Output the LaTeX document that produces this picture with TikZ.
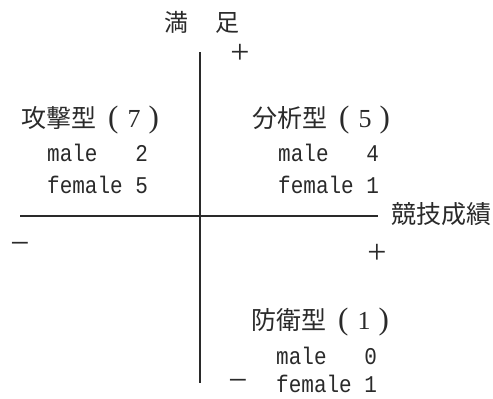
\documentclass[tikz,border=0pt]{standalone}
\usepackage{fontspec}
\newfontfamily\cjk{Noto Sans CJK JP}
\newfontfamily\latmono[FakeStretch=0.875]{Liberation Mono}
\newfontfamily\latserif{Liberation Serif}
\definecolor{ink}{HTML}{2A2A2A}
\newcommand{\bigparen}[1]{{\latserif\fontsize{31}{31}\selectfont #1}}
\newcommand{\headline}[2]{#1\hspace{12pt}\bigparen{(}\hspace{9pt}{\latserif\fontsize{26}{26}\selectfont #2}\hspace{8pt}\bigparen{)}}
\begin{document}
\begin{tikzpicture}[x=1pt,y=-1pt,
  every node/.style={inner sep=0pt,text=ink},
  head/.style={anchor=west,font=\cjk\fontsize{25}{25}\selectfont},
  row/.style={anchor=west,font=\latmono\fontsize{24}{24}\selectfont},
  sign/.style={font=\latserif\fontsize{34}{34}\selectfont},
  axis/.style={draw=ink,line width=1.3pt}]
\useasboundingbox (0,0) rectangle (493,399);
\coordinate (vtop) at (200,52);
\coordinate (vbot) at (200,383);
\coordinate (hl) at (20,216);
\coordinate (hr) at (378,216);
\draw[axis] (vtop) -- (vbot);
\draw[axis] (hl) -- (hr);
\node[font=\cjk\fontsize{24}{24}\selectfont] (ylab) at (202,22) {満\hspace{1.1em}足};
\node[sign] (yplus) at (240,54) {+};
\node[head] (t1) at (21,120) {\headline{攻擊型}{7}};
\node[row] (m1) at (47,153) {male\phantom{000}2};
\node[row] (f1) at (47,185) {female 5};
\node[head] (t2) at (252,120) {\headline{分析型}{5}};
\node[row] (m2) at (278,153) {male\phantom{000}4};
\node[row] (f2) at (278,185) {female 1};
\node[anchor=west,font=\cjk\fontsize{25}{25}\selectfont] (xlab) at (391,214) {競技成績};
\node[sign] (xminus) at (20,248) {−};
\node[sign] (xplus) at (377,254) {+};
\node[head] (t3) at (251,322) {\headline{防衛型}{1}};
\node[row] (m3) at (276,356) {male\phantom{000}0};
\node[row] (f3) at (276,384) {female 1};
\node[sign] (yminus) at (238,385) {−};
\end{tikzpicture}
\end{document}
